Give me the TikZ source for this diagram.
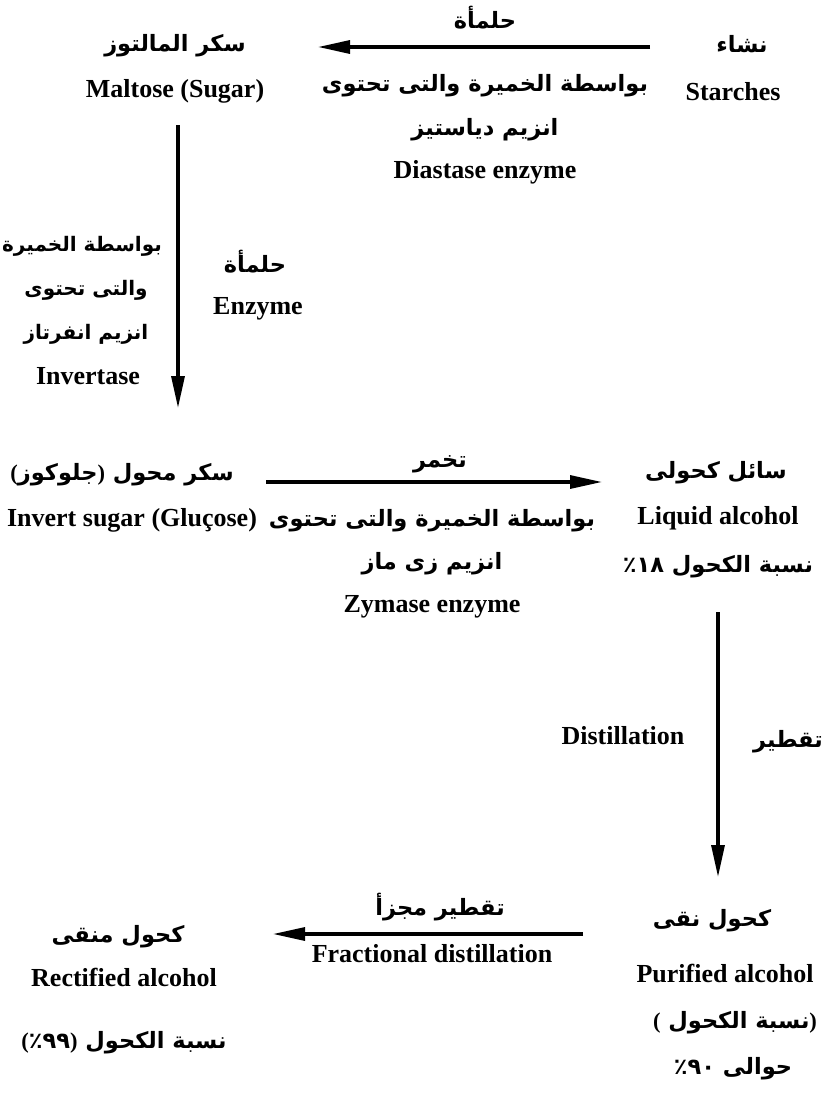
\documentclass[tikz,border=0pt]{standalone}
\usepackage{fontspec}
\setmainfont{Liberation Serif}
\newfontfamily\arabicfont[Script=Arabic]{DejaVu Sans}
\TeXXeTstate=1
\usetikzlibrary{arrows.meta}
\newcommand{\artext}[1]{{\arabicfont\beginR #1\endR}}
\newcommand{\ag}[1]{\hbox{\arabicfont #1}}
\newcommand{\lp}{\hbox{\rmfamily\bfseries (}}
\newcommand{\rp}{\hbox{\rmfamily\bfseries )}}
\begin{document}
\begin{tikzpicture}[x=1pt,y=-1pt,
  en/.style={font=\fontsize{26}{30}\selectfont\bfseries, inner sep=0pt, anchor=base},
  ara/.style={font=\fontsize{22.5}{27}\selectfont\arabicfont\bfseries, inner sep=0pt, anchor=base},
  arasmall/.style={ara, font=\fontsize{20}{24}\selectfont\arabicfont\bfseries},
  flow/.style={line width=3.2pt, -{Triangle[length=32pt,width=13pt]}}]
\useasboundingbox (0,0) rectangle (840,1095);

% ---- top row
\node[ara] (maltAr) at (175,51) {\artext{سكر المالتوز}};
\node[en]  (maltEn) at (175,97) {Maltose (Sugar)};
\node[ara] (starAr) at (742,52) {\artext{نشاء}};
\node[en]  (starEn) at (733,100) {Starches};
\coordinate (a1s) at (650,47);
\coordinate (a1e) at (318,47);
\draw[flow] (a1s) -- (a1e);
\node[ara] (hydA) at (485,28) {\artext{حلمأة}};
\node[ara] (yeastA) at (485,91) {\artext{بواسطة الخميرة والتى تحتوى}};
\node[ara] (diaA) at (485,135) {\artext{انزيم دياستيز}};
\node[en]  (diaE) at (485,178) {Diastase enzyme};

% ---- vertical 1
\coordinate (v1s) at (178,125);
\coordinate (v1e) at (178,408);
\draw[flow] (v1s) -- (v1e);
\node[arasmall] (invA1) at (82,251) {\artext{بواسطة الخميرة}};
\node[arasmall] (invA2) at (86,295) {\artext{والتى تحتوى}};
\node[arasmall] (invA3) at (86,339) {\artext{انزيم انفرتاز}};
\node[en]  (invE)  at (88,384) {Invertase};
\node[ara] (hydB) at (255,272) {\artext{حلمأة}};
\node[en]  (enzE) at (258,314) {Enzyme};

% ---- middle row
\node[ara] (glucA) at (122,480) {\lp\artext{جلوكوز}\rp\ \artext{سكر محول}};
\node[en]  (glucE) at (132,526) {Invert sugar (Gluçose)};
\coordinate (a2s) at (266,482);
\coordinate (a2e) at (602,482);
\draw[flow] (a2s) -- (a2e);
\node[ara] (fermA) at (440,467) {\artext{تخمر}};
\node[ara] (yeastB) at (432,526) {\artext{بواسطة الخميرة والتى تحتوى}};
\node[ara] (zymA) at (432,569) {\artext{انزيم زى ماز}};
\node[en]  (zymE) at (432,612) {Zymase enzyme};
\node[ara] (liqA) at (716,478) {\artext{سائل كحولى}};
\node[en]  (liqE) at (718,524) {Liquid alcohol};
\node[ara] (liqP) at (718,572) {\ag{٪}\ag{١}\ag{٨}\ \artext{نسبة الكحول}};

% ---- vertical 2
\coordinate (v2s) at (718,612);
\coordinate (v2e) at (718,877);
\draw[flow] (v2s) -- (v2e);
\node[en]  (distE) at (623,744) {Distillation};
\node[ara] (distA) at (788,747) {\artext{تقطير}};

% ---- bottom row
\node[ara] (rectA) at (118,942) {\artext{كحول منقى}};
\node[en]  (rectE) at (124,986) {Rectified alcohol};
\node[ara] (rectP) at (124,1048) {\lp\ag{٪}\ag{٩}\ag{٩}\rp\ \artext{نسبة الكحول}};
\coordinate (a3s) at (583,934);
\coordinate (a3e) at (273,934);
\draw[flow] (a3s) -- (a3e);
\node[ara] (fracA) at (440,915) {\artext{تقطير مجزأ}};
\node[en]  (fracE) at (432,962) {Fractional distillation};
\node[ara] (purA) at (712,926) {\artext{كحول نقى}};
\node[en]  (purE) at (725,982) {Purified alcohol};
\node[ara] (purP1) at (735,1028) {\lp\ \artext{نسبة الكحول}\rp};
\node[ara] (purP2) at (733,1074) {\ag{٪}\ag{٩}\ag{٠}\ \artext{حوالى}};
\end{tikzpicture}
\end{document}
